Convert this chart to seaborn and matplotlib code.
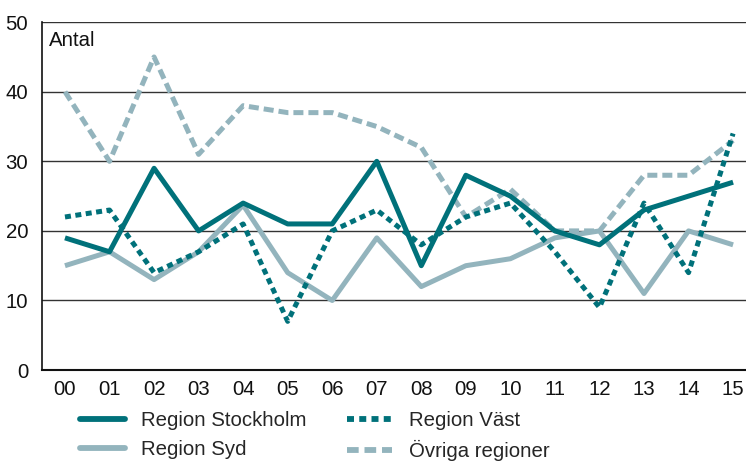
import matplotlib
matplotlib.use("Agg")
import matplotlib.pyplot as plt
import seaborn as sns
import pandas as pd
from matplotlib.lines import Line2D

years = ["00", "01", "02", "03", "04", "05", "06", "07", "08", "09", "10", "11", "12", "13", "14", "15"]
stockholm = [19, 17, 29, 20, 24, 21, 21, 30, 15, 28, 25, 20, 18, 23, 25, 27]
vast = [22, 23, 14, 17, 21, 7, 20, 23, 18, 22, 24, 17, 9, 24, 14, 34]
syd = [15, 17, 13, 17, 23.7, 14, 10, 19, 12, 15, 16, 19, 20, 11, 20, 18]
ovriga = [40, 30, 45, 31, 38, 37, 37, 35, 32, 22, 26, 20, 20, 28, 28, 33]
names = ["Region Stockholm", "Region Väst", "Region Syd", "Övriga regioner"]

sns.set_theme(style="white")
plt.rcParams["font.family"] = ["Liberation Sans", "DejaVu Sans"]

dark = "#00717A"
light = "#93B4BD"
fs = 14.7

fig = plt.figure(figsize=(7.46, 4.62), dpi=100)
ax = fig.add_axes([0.0563, 0.199, 0.9437, 0.753])

x = list(range(len(years)))
series = [
    (names[2], syd, light, (None, None)),
    (names[3], ovriga, light, (2.0, 1.0)),
    (names[1], vast, dark, (1.2, 0.9)),
    (names[0], stockholm, dark, (None, None)),
]
lw = 3.6
handles = {}
for name, vals, col, dash in series:
    df = pd.DataFrame({"x": x, "y": vals})
    sns.lineplot(data=df, x="x", y="y", ax=ax, color=col, linewidth=lw, legend=False)
    line = ax.lines[-1]
    line.set_solid_capstyle("butt")
    line.set_dash_capstyle("butt")
    if dash[0] is not None:
        line.set_dashes(dash)
    h = Line2D([], [], color=col, linewidth=lw + 0.6, solid_capstyle="round", dash_capstyle="butt")
    if dash[0] is not None:
        h.set_dashes(dash)
    handles[name] = h

ax.set_xlim(-0.516, 15.29)
ax.set_ylim(0, 50)
ax.set_yticks([0, 10, 20, 30, 40, 50])
ax.set_xticks(x)
ax.set_xticklabels(years)
ax.set_xlabel("")
ax.set_ylabel("")
ax.grid(axis="y", color="#333333", linewidth=1.0)
ax.set_axisbelow(True)
for s in ["top", "right"]:
    ax.spines[s].set_visible(False)
ax.spines["left"].set_color("#111111")
ax.spines["left"].set_linewidth(1.2)
ax.spines["bottom"].set_color("#111111")
ax.spines["bottom"].set_linewidth(1.5)
ax.tick_params(axis="both", length=0, labelsize=fs, colors="#111111")
ax.tick_params(axis="y", pad=10)
ax.tick_params(axis="x", pad=7)

ax.text(0.01, 0.975, "Antal", transform=ax.transAxes, fontsize=fs, va="top", ha="left", color="#111111")

order = [names[0], names[2], names[1], names[3]]
fig.legend([handles[n] for n in order], order, loc="upper left", bbox_to_anchor=(0.107, 0.11),
           ncol=2, frameon=False, fontsize=fs, handlelength=2.2, handletextpad=0.8,
           columnspacing=2.0, labelspacing=0.5, borderaxespad=0, borderpad=0)

fig.savefig("out.png", dpi=100)
